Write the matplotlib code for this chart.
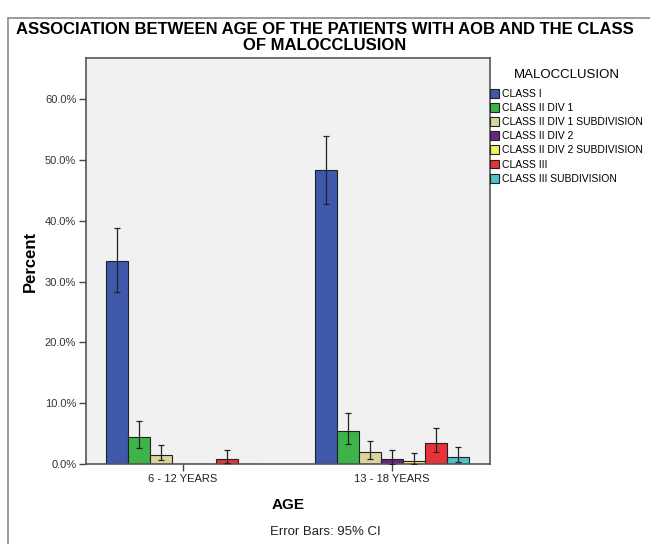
import numpy as np
import matplotlib
matplotlib.use("Agg")
import matplotlib.pyplot as plt
from matplotlib.patches import Rectangle, Patch

plt.rcParams['font.family'] = ['Liberation Sans', 'DejaVu Sans']

# data (percent, with 95% CI bounds)
age_groups = ['6 - 12 YEARS', '13 - 18 YEARS']
classes = ['CLASS I', 'CLASS II DIV 1', 'CLASS II DIV 1 SUBDIVISION', 'CLASS II DIV 2',
           'CLASS II DIV 2 SUBDIVISION', 'CLASS III', 'CLASS III SUBDIVISION']
colors = ['#3E58AC', '#3DB44A', '#D8D49C', '#6A2484', '#F4EF5E', '#E8323A', '#4CC3C6']

pct_6_12 = [33.4, 4.4, 1.5, 0.0, 0.0, 0.9, 0.0]
lo_6_12 = [28.3, 2.6, 0.6, np.nan, np.nan, 0.2, np.nan]
hi_6_12 = [38.9, 7.1, 3.2, np.nan, np.nan, 2.3, np.nan]

pct_13_18 = [48.4, 5.4, 1.9, 0.8, 0.5, 3.5, 1.2]
lo_13_18 = [42.7, 3.3, 0.8, 0.0, 0.0, 1.9, 0.3]
hi_13_18 = [53.9, 8.4, 3.8, 2.3, 1.8, 6.0, 2.8]

pct = np.array([pct_6_12, pct_13_18])
lo = np.array([lo_6_12, lo_13_18])
hi = np.array([hi_6_12, hi_13_18])

fig = plt.figure(figsize=(6.5, 5.44), dpi=100)
fig.patches.append(Rectangle((8 / 650, -0.1), 1.2, 1 - 18 / 544 + 0.1, transform=fig.transFigure,
                             fill=False, edgecolor='#8a8a8a', linewidth=1.2))

ax = fig.add_axes([86 / 650, 1 - 464 / 544, (490 - 86) / 650, (464 - 58) / 544])
ax.set_facecolor('#F1F1F1')

width = 22 / 209
x = np.arange(len(age_groups))
for i, (name, col) in enumerate(zip(classes, colors)):
    xs = x + (i - 3) * width
    ax.bar(xs, pct[:, i], width=width, color=col, edgecolor='#222222', linewidth=0.8,
           label=name, zorder=2)
    ok = ~np.isnan(lo[:, i])
    err = np.vstack([pct[ok, i] - lo[ok, i], hi[ok, i] - pct[ok, i]])
    ax.errorbar(xs[ok], pct[ok, i], yerr=err, fmt='none', ecolor='#222222',
                elinewidth=0.9, capsize=2.5, capthick=0.9, zorder=3)

ax.set_xlim(-0.464, 1.469)
ax.set_ylim(0, 66.8)
ax.set_yticks(np.arange(0, 61, 10))
ax.set_yticklabels([f'{v:.1f}%' for v in np.arange(0, 61, 10)], fontsize=8, color='#333333')
ax.set_xticks(x)
ax.set_xticklabels(age_groups, fontsize=8, color='#222222')
ax.tick_params(axis='both', direction='out', length=5, width=1, color='#444444', pad=2)
for s in ax.spines.values():
    s.set_color('#555555')
    s.set_linewidth(1.2)

ax.set_ylabel('Percent', fontsize=12, fontweight='bold', labelpad=5)
ax.set_xlabel('AGE', fontsize=11, fontweight='bold', labelpad=10)

fig.text(0.5, 1 - 37.5 / 544, 'ASSOCIATION BETWEEN AGE OF THE PATIENTS WITH AOB AND THE CLASS\nOF MALOCCLUSION',
         ha='center', va='center', fontsize=12, fontweight='bold', linespacing=1.1)
fig.text(0.5, 1 - 532 / 544, 'Error Bars: 95% CI', ha='center', va='center', fontsize=9.5, color='#222222')

handles = [Patch(facecolor=c, edgecolor='#222222', linewidth=0.8) for c in colors]
leg = ax.legend(handles, classes, title='MALOCCLUSION', loc='upper left',
                bbox_to_anchor=(490 / 650, 1 - 68.5 / 544), bbox_transform=fig.transFigure,
                frameon=False, fontsize=7.5, title_fontsize=9.5, handlelength=0.9, handleheight=0.95,
                handletextpad=0.25, labelspacing=0.39, borderaxespad=0, borderpad=0)
leg._legend_box.sep = 6

fig.savefig('out.png', dpi=100)
